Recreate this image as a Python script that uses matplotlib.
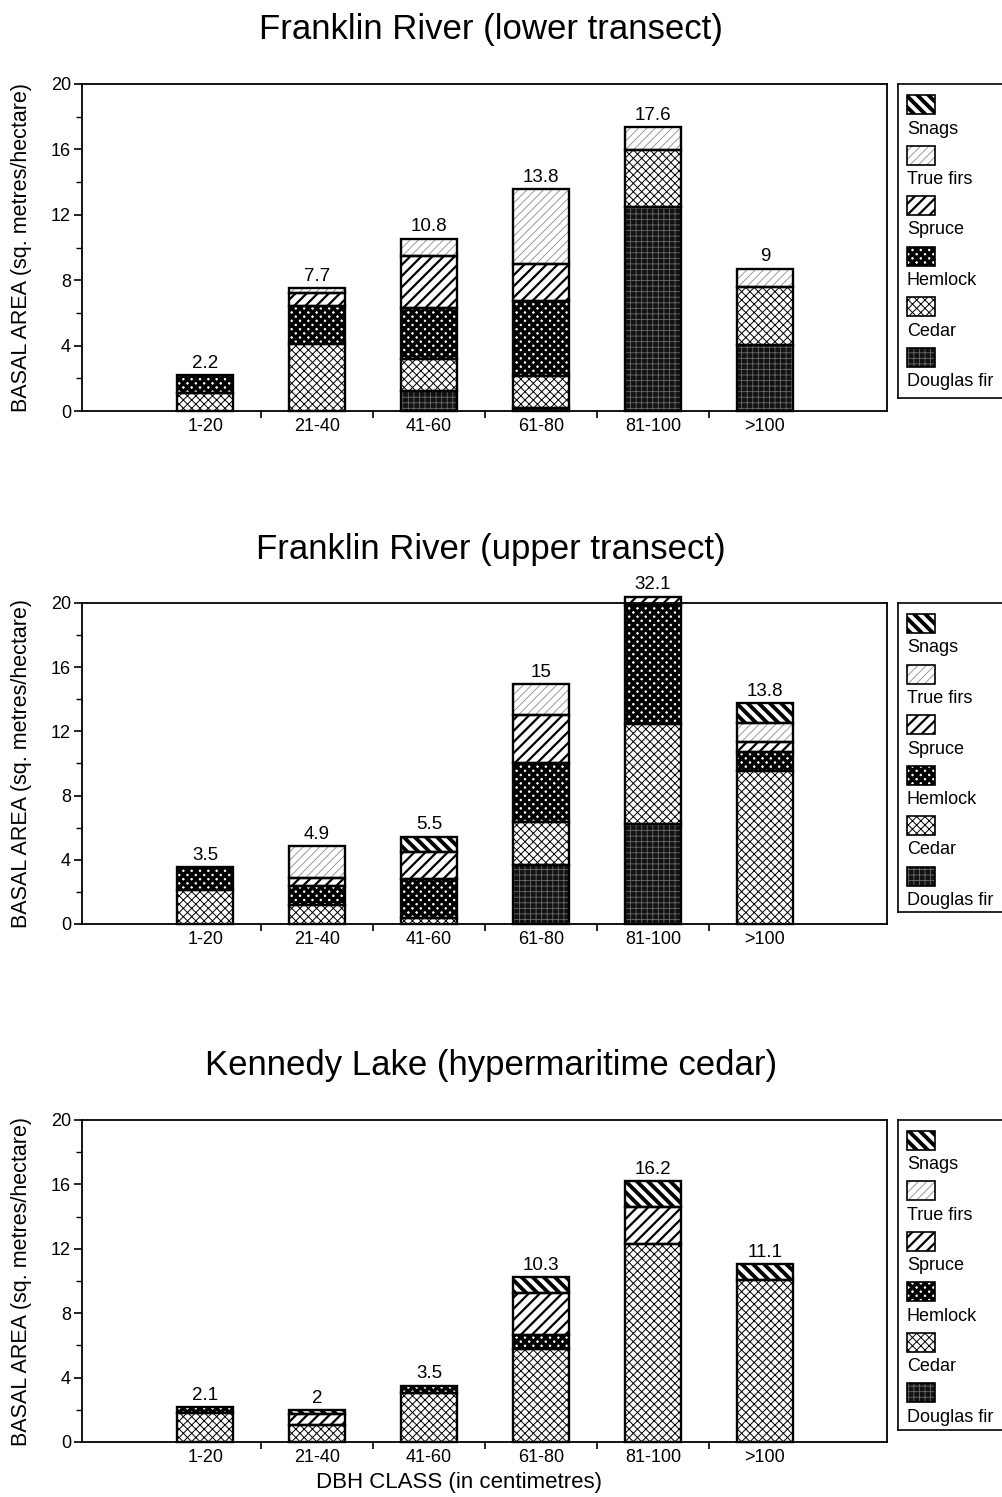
import matplotlib
matplotlib.use("Agg")
import matplotlib.pyplot as plt
from matplotlib.patches import Rectangle
import numpy as np

plt.rcParams['font.family'] = ['Liberation Sans', 'DejaVu Sans']

categories = ["1-20", "21-40", "41-60", "61-80", "81-100", ">100"]
species = ["Douglas fir", "Cedar", "Hemlock", "Spruce", "True firs", "Snags"]

# Franklin River (lower transect)
lower_douglas = [0, 0, 1.2, 0.2, 12.45, 4.05]
lower_cedar = [1.1, 4.1, 2.0, 1.95, 3.5, 3.55]
lower_hemlock = [1.1, 2.3, 3.1, 4.6, 0, 0]
lower_spruce = [0, 0.8, 3.15, 2.25, 0, 0]
lower_truefirs = [0, 0.3, 1.1, 4.55, 1.4, 1.1]
lower_snags = [0, 0, 0, 0, 0, 0]
lower_totals = ["2.2", "7.7", "10.8", "13.8", "17.6", "9"]

# Franklin River (upper transect)
upper_douglas = [0, 0, 0, 3.7, 6.2, 0]
upper_cedar = [2.1, 1.2, 0.35, 2.65, 6.25, 9.55]
upper_hemlock = [1.45, 1.15, 2.45, 3.65, 7.45, 1.15]
upper_spruce = [0, 0.5, 1.7, 3.0, 0.5, 0.65]
upper_truefirs = [0, 2.0, 0, 1.95, 0, 1.15]
upper_snags = [0, 0, 0.95, 0, 0, 1.25]
upper_totals = ["3.5", "4.9", "5.5", "15", "32.1", "13.8"]

# Kennedy Lake (hypermaritime cedar)
kennedy_douglas = [0, 0, 0, 0, 0, 0]
kennedy_cedar = [1.8, 1.05, 3.05, 5.8, 12.3, 10.05]
kennedy_hemlock = [0.35, 0, 0.45, 0.85, 0, 0]
kennedy_spruce = [0, 0.7, 0, 2.6, 2.3, 0]
kennedy_truefirs = [0, 0, 0, 0, 0, 0]
kennedy_snags = [0, 0.25, 0, 1.0, 1.6, 1.0]
kennedy_totals = ["2.1", "2", "3.5", "10.3", "16.2", "11.1"]

yticks_major = [0, 4, 8, 12, 16, 20]

# styles: facecolor, hatch, hatch colour, hatch linewidth
styles = {
    "Douglas fir": dict(fc="#121212", hatch="+++", hc="#6a6a6a", hlw=0.6),
    "Cedar": dict(fc="white", hatch="xxxx", hc="black", hlw=0.7),
    "Hemlock": dict(fc="white", hatch="xxxx", hc="black", hlw=2.6),
    "Spruce": dict(fc="white", hatch="///", hc="black", hlw=1.6),
    "True firs": dict(fc="white", hatch="////", hc="#8a8a8a", hlw=0.6),
    "Snags": dict(fc="white", hatch="\\\\\\", hc="black", hlw=2.8),
}

panels = [
    ("Franklin River (lower transect)",
     [lower_douglas, lower_cedar, lower_hemlock, lower_spruce, lower_truefirs, lower_snags],
     lower_totals, 84, 411, 398),
    ("Franklin River (upper transect)",
     [upper_douglas, upper_cedar, upper_hemlock, upper_spruce, upper_truefirs, upper_snags],
     upper_totals, 603, 924, 912),
    ("Kennedy Lake (hypermaritime cedar)",
     [kennedy_douglas, kennedy_cedar, kennedy_hemlock, kennedy_spruce, kennedy_truefirs, kennedy_snags],
     kennedy_totals, 1120, 1442, 1430),
]

W, H = 1003, 1497
fig = plt.figure(figsize=(W / 100, H / 100), dpi=100)

def fbox(l, t, r, b):
    return [l / W, 1 - b / H, (r - l) / W, (b - t) / H]

x = np.arange(len(categories))
bw = 0.5

for pi, (title, series, totals, top, bot, legbot) in enumerate(panels):
    ax = fig.add_axes(fbox(82, top, 887, bot))
    ax.set_xlim(-1.1, 6.09)
    ax.set_ylim(0, 20)
    bottom = np.zeros(len(categories))
    for name, vals in zip(species, series):
        vals = np.array(vals, dtype=float)
        st = styles[name]
        m = vals > 0
        if m.any():
            with plt.rc_context({'hatch.linewidth': st["hlw"]}):
                ax.bar(x[m], vals[m], bw, bottom=bottom[m], color=st["fc"],
                       hatch=st["hatch"], edgecolor=st["hc"], linewidth=0,
                       clip_on=False, zorder=2)
            ax.bar(x[m], vals[m], bw, bottom=bottom[m], fill=False,
                   edgecolor="black", linewidth=1.7, clip_on=False, zorder=3)
        bottom = bottom + vals
    for xi, tot, lab in zip(x, bottom, totals):
        ax.text(xi, tot + 0.2, lab, ha="center", va="bottom", fontsize=13.5)

    ax.set_yticks(yticks_major)
    ax.set_yticks([2, 6, 10, 14, 18], minor=True)
    ax.set_xticks(x)
    ax.set_xticklabels(categories, fontsize=13)
    ax.set_xticks(np.arange(0.5, 5, 1), minor=True)
    ax.tick_params(axis="x", which="major", length=0, pad=5)
    ax.tick_params(axis="x", which="minor", length=5, direction="out", width=1.2)
    ax.tick_params(axis="y", which="major", length=6, direction="out", width=1.2,
                   labelsize=13, pad=2)
    ax.tick_params(axis="y", which="minor", length=4, direction="out", width=1)
    for s in ax.spines.values():
        s.set_linewidth(1.3)
    ax.set_ylabel("BASAL AREA (sq. metres/hectare)", fontsize=15.5)
    ax.yaxis.set_label_coords(-0.062, 0.5)

    fig.text(491 / W, 1 - (top - 54) / H, title, ha="center", va="center", fontsize=25)

    # legend box
    lg = fig.add_axes(fbox(898, top, 1010, legbot))
    lg.set_xlim(898, 1010)
    lg.set_ylim(legbot, top)
    lg.set_xticks([])
    lg.set_yticks([])
    for s in lg.spines.values():
        s.set_linewidth(1.2)
    for k, name in enumerate(species[::-1]):
        yc = top + 20 + k * 50.5
        st = styles[name]
        with plt.rc_context({'hatch.linewidth': st["hlw"]}):
            lg.add_patch(Rectangle((907, yc - 9), 28, 19, facecolor=st["fc"],
                                   hatch=st["hatch"], edgecolor=st["hc"], linewidth=0))
        lg.add_patch(Rectangle((907, yc - 9), 28, 19, fill=False,
                               edgecolor="black", linewidth=1.2))
        lg.text(907, yc + 25, name, ha="left", va="center", fontsize=13)

    if pi == 2:
        ax.set_xlabel("DBH CLASS (in centimetres)", fontsize=16)
        ax.xaxis.set_label_coords(0.468, -0.094)

fig.savefig("out.png", dpi=100)
